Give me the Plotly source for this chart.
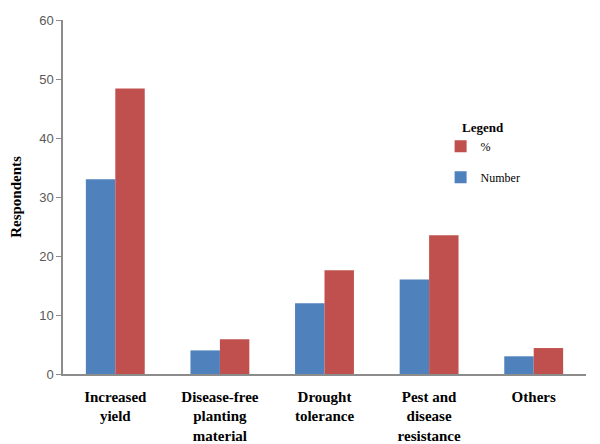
import plotly.graph_objects as go

categories = ["Increased<br>yield", "Disease-free<br>planting<br>material", "Drought<br>tolerance",
              "Pest and<br>disease<br>resistance", "Others"]
number_vals = [33, 4, 12, 16, 3]
percent_vals = [48.4, 5.9, 17.6, 23.5, 4.4]
y_ticks = [0, 10, 20, 30, 40, 50, 60]

fig = go.Figure()
fig.add_trace(go.Bar(x=categories, y=number_vals, name="Number", marker_color="#4f81bd",
                     legendgroup="n", legendrank=2, marker_line_width=0))
fig.add_trace(go.Bar(x=categories, y=percent_vals, name="%", marker_color="#c0504d",
                     legendgroup="p", legendrank=1, marker_line_width=0))

# page body has an 8px margin, so the figure is drawn 8px smaller and shifted
fig.update_layout(
    width=592, height=436,
    margin=dict(l=55, r=14, t=12, b=70),
    paper_bgcolor="white", plot_bgcolor="white",
    barmode="group", bargap=0.437, bargroupgap=0,
    showlegend=True,
    legend=dict(
        title=dict(text="&nbsp;&nbsp;&nbsp;&nbsp;&nbsp;&nbsp;<b>Legend</b>",
                   font=dict(family="Liberation Serif", size=13, color="black"), side="top"),
        x=0.722, y=0.732, xanchor="left", yanchor="top",
        traceorder="grouped", tracegroupgap=12,
        font=dict(family="Liberation Serif", size=12, color="black"),
        bgcolor="rgba(0,0,0,0)", itemwidth=30,
    ),
    xaxis=dict(
        automargin=False,
        showline=True, linecolor="#8c8c8c", linewidth=1.5,
        ticks="", showgrid=False, ticklabelstandoff=8,
        tickfont=dict(family="Liberation Serif", size=15, color="black"),
        tickprefix="<b>", ticksuffix="</b>",
    ),
    yaxis=dict(
        automargin=False,
        range=[0, 60], tickvals=y_ticks,
        showline=True, linecolor="#8c8c8c", linewidth=1.5,
        ticks="outside", ticklen=5, tickcolor="#8c8c8c",
        showgrid=False, zeroline=False,
        tickfont=dict(family="Liberation Sans", size=13, color="#595959"),
        title=dict(text="<b>Respondents</b>", font=dict(family="Liberation Serif", size=15, color="black"), standoff=21),
    ),
)

fig.write_html("out.html")
